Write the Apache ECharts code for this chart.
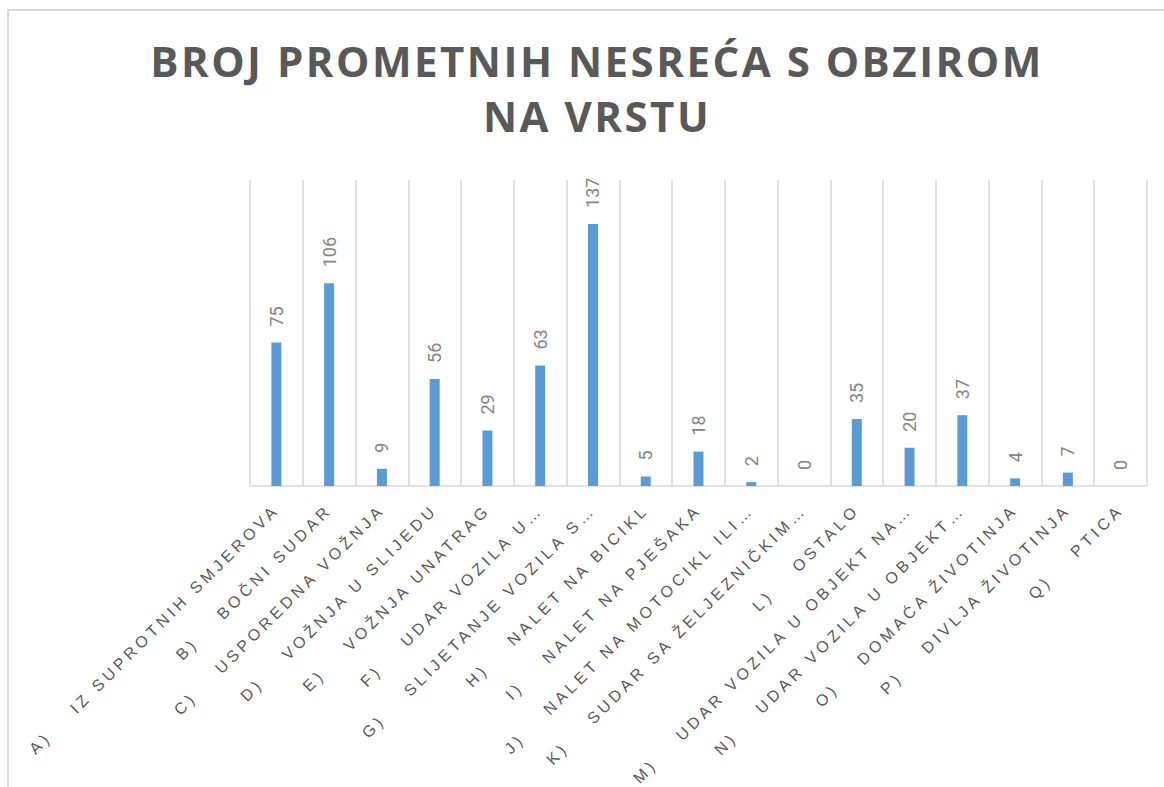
<!DOCTYPE html>
<html>
<head>
<meta charset="utf-8">
<title>Broj prometnih nesreća s obzirom na vrstu</title>
<script src="https://cdn.jsdelivr.net/npm/echarts@6/dist/echarts.min.js"></script>
<style>
  html, body { margin: 0; padding: 0; background: #fff; }
  #chart { width: 1164px; height: 787px; }
  /* razmak slova kao u Excelu (svg renderer) */
  #chart text[style*="Liberation"], #chart text[font-family*="Liberation"] { letter-spacing: 4px; }
  #chart text[style*="Open Sans"], #chart text[font-family*="Open Sans"] { letter-spacing: 2.5px; }
</style>
</head>
<body>
<div id="chart"></div>
<script>
const titleText = "BROJ PROMETNIH NESREĆA S OBZIROM\nNA VRSTU";

// oznake kategorija (skraćene kao u izvorniku)
const prefixes = ["A)", "B)", "C)", "D)", "E)", "F)", "G)", "H)", "I)", "J)", "K)", "L)", "M)", "N)", "O)", "P)", "Q)"];
const names = [
  "IZ SUPROTNIH SMJEROVA",
  "BOČNI SUDAR",
  "USPOREDNA VOŽNJA",
  "VOŽNJA U SLIJEDU",
  "VOŽNJA UNATRAG",
  "UDAR VOZILA U…",
  "SLIJETANJE VOZILA S…",
  "NALET NA BICIKL",
  "NALET NA PJEŠAKA",
  "NALET NA MOTOCIKL ILI…",
  "SUDAR SA ŽELJEZNIČKIM…",
  "OSTALO",
  "UDAR VOZILA U OBJEKT NA…",
  "UDAR VOZILA U OBJEKT…",
  "DOMAĆA ŽIVOTINJA",
  "DIVLJA ŽIVOTINJA",
  "PTICA",
];
const values = [75, 106, 9, 56, 29, 63, 137, 5, 18, 2, 0, 35, 20, 37, 4, 7, 0];

const gap = "\u00a0\u00a0\u00a0\u00a0";
const categories = prefixes.map((p, i) => p + gap + names[i]);

const chart = echarts.init(document.getElementById("chart"), null, { renderer: "svg" });

const option = {
  animation: false,
  title: {
    text: titleText,
    left: 592,
    top: 28,
    textAlign: "center",
    textStyle: {
      fontFamily: "Open Sans",
      fontWeight: "bold",
      fontSize: 42,
      lineHeight: 55,
      color: "#595959",
    },
  },
  graphic: [
    {
      type: "rect",
      shape: { x: 8, y: 10, width: 1200, height: 800 },
      style: { fill: "none", stroke: "#d9d9d9", lineWidth: 2 },
      silent: true,
    },
  ],
  grid: {
    left: 250,
    right: 17,
    top: 180,
    bottom: 301,
  },
  xAxis: {
    type: "category",
    data: categories,
    axisLine: {
      lineStyle: { color: "#d9d9d9", width: 1.5 },
    },
    axisTick: { show: false },
    splitLine: {
      show: true,
      interval: 0,
      lineStyle: { color: "#d9d9d9", width: 1.5 },
    },
    axisLabel: {
      interval: 0,
      rotate: 45,
      margin: 21,
      fontFamily: "Liberation Sans",
      fontSize: 16,
      color: "#595959",
    },
  },
  yAxis: {
    type: "value",
    min: 0,
    max: 160,
    show: false,
    splitLine: { show: false },
  },
  series: [
    {
      type: "bar",
      data: values,
      barWidth: 10,
      itemStyle: { color: "#5b9bd5" },
      label: {
        show: true,
        position: "top",
        rotate: 90,
        align: "left",
        verticalAlign: "middle",
        distance: 16,
        fontFamily: "Roboto",
        fontSize: 18,
        color: "#858585",
      },
    },
  ],
};

chart.setOption(option);
</script>
</body>
</html>
